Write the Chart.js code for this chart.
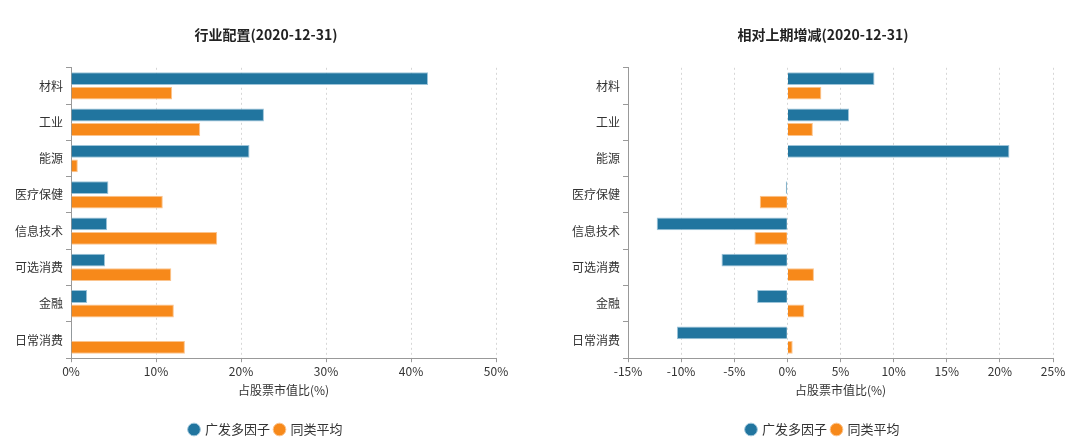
<!DOCTYPE html>
<html>
<head>
<meta charset="utf-8">
<script src="https://cdn.jsdelivr.net/npm/chart.js@4"></script>
<style>
  html, body { margin: 0; padding: 0; background: #fff; }
  .wrap { display: flex; width: 1080px; height: 443px; }
  .box { position: relative; width: 540px; height: 443px; }
</style>
</head>
<body>
<div class="wrap">
  <div class="box"><canvas id="left"></canvas></div>
  <div class="box"><canvas id="right"></canvas></div>
</div>
<script>
'use strict';

const categories = ['材料', '工业', '能源', '医疗保健', '信息技术', '可选消费', '金融', '日常消费'];
const seriesNames = ['广发多因子', '同类平均'];

// 行业配置 (% of stock market value)
const allocFund = [42.0, 22.7, 21.0, 4.4, 4.25, 4.0, 1.9, 0.1];
const allocPeer = [11.9, 15.2, 0.8, 10.8, 17.2, 11.8, 12.1, 13.4];

// 相对上期增减 (change vs previous period)
const changeFund = [8.2, 5.8, 20.9, -0.15, -12.3, -6.2, -2.85, -10.4];
const changePeer = [3.2, 2.4, 0.05, -2.6, -3.1, 2.5, 1.6, 0.5];

const colors = {
    blue: '#21759f',
    blueEdge: '#9cc4d9',
    orange: '#f7891a',
    orangeEdge: '#fbc48e',
};

const font = '"Noto Sans CJK SC", "Noto Sans", sans-serif';

function makeDatasets(fund, peer) {
    return [
        {
            label: seriesNames[0],
            data: fund,
            backgroundColor: colors.blue,
            borderColor: colors.blueEdge,
            borderWidth: 1,
            categoryPercentage: 0.8,
            barPercentage: 0.88,
        },
        {
            label: seriesNames[1],
            data: peer,
            backgroundColor: colors.orange,
            borderColor: colors.orangeEdge,
            borderWidth: 1,
            categoryPercentage: 0.8,
            barPercentage: 0.88,
        },
    ];
}

// yWidth / xPadRight pin the plot area, padding keeps title and legend centred
function makeChart(canvas, title, datasets, xMin, xMax, step, padding, yWidth, xPadRight) {
    return new Chart(canvas.getContext('2d'), {
        type: 'bar',
        data: { labels: categories, datasets: datasets },
        options: {
            indexAxis: 'y',
            responsive: true,
            maintainAspectRatio: false,
            animation: false,
            layout: { padding: padding },
            plugins: {
                title: {
                    display: true,
                    text: title,
                    color: '#222',
                    font: { family: font, size: 14, weight: 'bold' },
                    padding: { top: 0, bottom: 25 },
                },
                legend: {
                    position: 'bottom',
                    labels: {
                        usePointStyle: true,
                        pointStyle: 'circle',
                        boxWidth: 9,
                        boxHeight: 9,
                        padding: 5,
                        color: '#333',
                        font: { family: font, size: 13 },
                    },
                },
                tooltip: { enabled: false },
            },
            scales: {
                x: {
                    min: xMin,
                    max: xMax,
                    afterFit: scale => { scale.paddingRight = xPadRight; },
                    ticks: {
                        stepSize: step,
                        color: '#333',
                        padding: 2,
                        font: { family: font, size: 12 },
                        callback: v => v + '%',
                    },
                    grid: {
                        color: '#d6d6d6',
                        tickColor: '#999',
                        tickLength: 4,
                    },
                    border: { color: '#999', dash: [2, 3] },
                    title: {
                        display: true,
                        text: '占股票市值比(%)',
                        color: '#333',
                        font: { family: font, size: 12 },
                        padding: { top: 3, bottom: 20 },
                    },
                },
                y: {
                    afterFit: scale => { scale.width = yWidth; },
                    ticks: {
                        color: '#333',
                        padding: 3,
                        font: { family: font, size: 12 },
                    },
                    grid: {
                        drawOnChartArea: false,
                        tickColor: '#999',
                        tickLength: 5,
                    },
                    border: { color: '#999' },
                },
            },
        },
    });
}

makeChart(document.getElementById('left'), '行业配置(2020-12-31)',
    makeDatasets(allocFund, allocPeer), 0, 50, 10,
    { top: 26, left: 10, right: 18, bottom: -3 }, 61, 44);

makeChart(document.getElementById('right'), '相对上期增减(2020-12-31)',
    makeDatasets(changeFund, changePeer), -15, 25, 5,
    { top: 26, left: 26, right: 0, bottom: -3 }, 62, 27);
</script>
</body>
</html>
